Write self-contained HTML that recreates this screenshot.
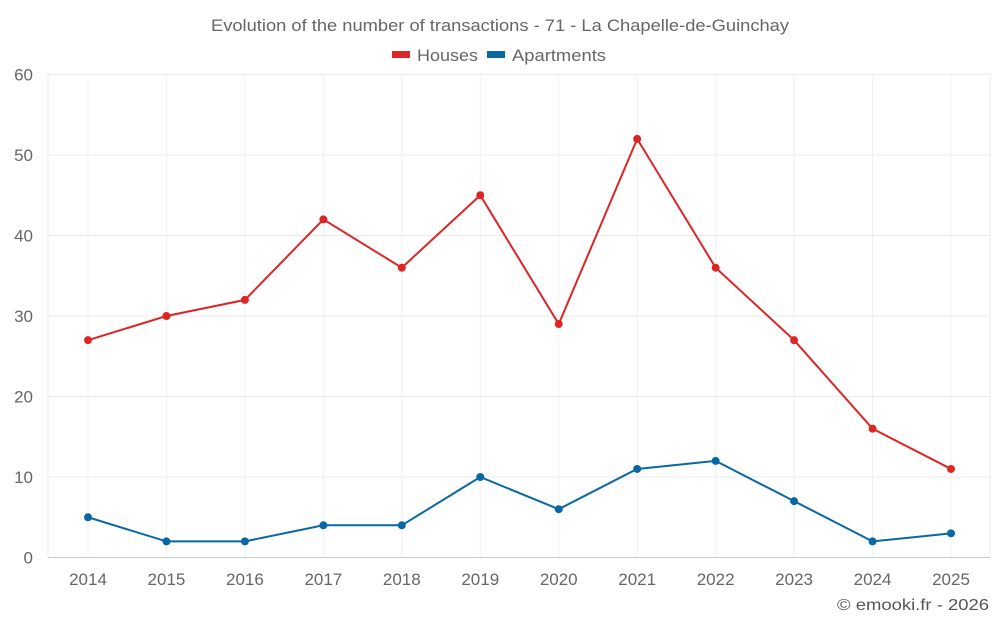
<!DOCTYPE html>
<html><head><meta charset="utf-8"><style>
body{margin:0;background:#fff;font-family:"Liberation Sans",sans-serif;}
svg{display:block}
</style></head><body>
<svg id="chart" width="1000" height="625">
<text x="211" y="31" textLength="578" lengthAdjust="spacingAndGlyphs" font-size="17" fill="#666">Evolution of the number of transactions - 71 - La Chapelle-de-Guinchay</text>
<g>
<g><rect x="392" y="51" width="18" height="7" fill="#dc2626"/><text x="417" y="61" font-size="17" textLength="61" lengthAdjust="spacingAndGlyphs" fill="#666">Houses</text></g>
<g><rect x="487" y="51" width="18" height="7" fill="#0868a3"/><text x="512" y="61" font-size="17" textLength="94" lengthAdjust="spacingAndGlyphs" fill="#666">Apartments</text></g>
</g>
<g id="grid"></g><g id="axes"></g><g id="series"></g>
<text x="837" y="610" textLength="152" lengthAdjust="spacingAndGlyphs" font-size="16" fill="#555">© emooki.fr - 2026</text>
</svg>
<script>
const years=[2014,2015,2016,2017,2018,2019,2020,2021,2022,2023,2024,2025];
const houses=[27,30,32,42,36,45,29,52,36,27,16,11];
const apartments=[5,2,2,4,4,10,6,11,12,7,2,3];
const yTicks=[0,10,20,30,40,50,60];
const NS="http://www.w3.org/2000/svg";
const x=i=>88+i*(951-88)/(years.length-1);
const y=v=>557.5-v*(557.5-74.5)/60;
function mk(t,a,p){const e=document.createElementNS(NS,t);for(const k in a)e.setAttribute(k,a[k]);p.appendChild(e);return e;}
const grid=document.getElementById('grid'),axes=document.getElementById('axes'),ser=document.getElementById('series');
yTicks.forEach(v=>{
 const l=mk('line',{x1:48,x2:990,y1:y(v),y2:y(v),stroke:v===0?'#ccc':'#ebebeb'},grid);
 
 
 const t=mk('text',{x:33,y:y(v)+6,'text-anchor':'end','font-size':17,fill:'#666'},axes);t.textContent=v;
 
 
});
mk('line',{x1:48,x2:48,y1:74,y2:557,stroke:'#ebebeb'},grid);
mk('line',{x1:990,x2:990,y1:74,y2:557,stroke:'#ebebeb'},grid);
years.forEach((yr,i)=>{
 const l=mk('line',{x1:x(i),x2:x(i),y1:74,y2:557,stroke:'#f0f0f0'},grid);
 
 
 const t=mk('text',{x:x(i),y:585,'text-anchor':'middle','font-size':17,fill:'#666'},axes);t.textContent=yr;
 
 
});
function draw(data,color,name){
 const p=mk('polyline',{points:data.map((v,i)=>x(i)+','+y(v)).join(' '),fill:'none',stroke:color,'stroke-width':2},ser);
 
 
 data.forEach((v,i)=>{const c=mk('circle',{cx:x(i),cy:y(v),r:4,fill:color},ser);
 
 });
}
draw(houses,'#dc2626','houses');
draw(apartments,'#0868a3','apartments');
</script>
</body></html>
